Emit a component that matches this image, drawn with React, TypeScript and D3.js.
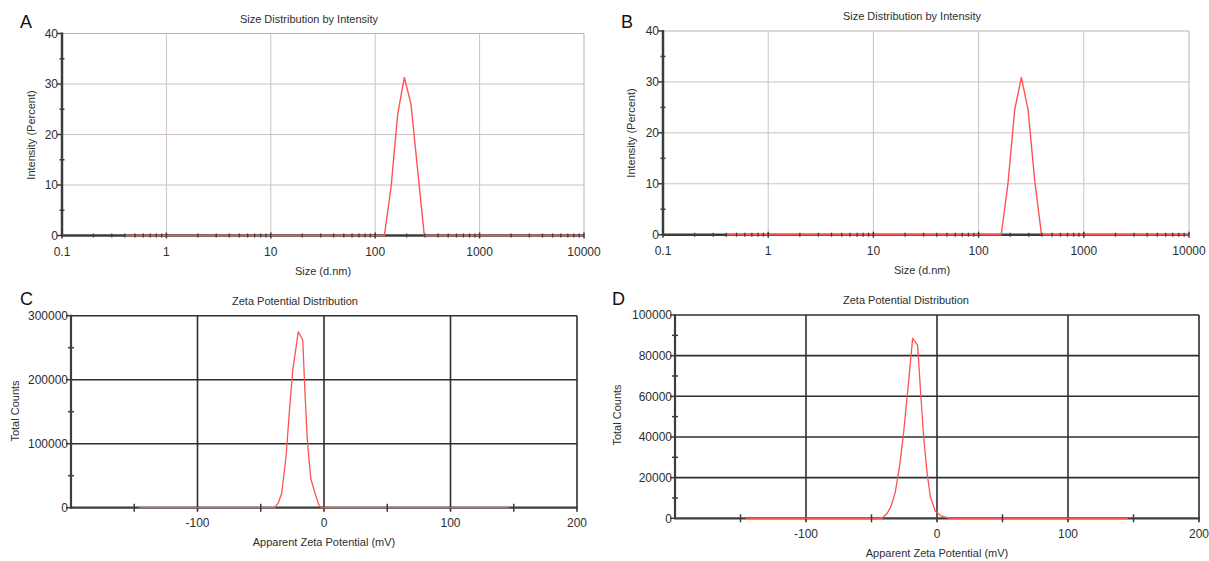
import React from 'react';
import * as d3 from 'd3';

// ---------- data ----------
const SIZE_TICKS = [0.1, 1, 10, 100, 1000, 10000];
const SIZE_LABELS = ['0.1', '1', '10', '100', '1000', '10000'];
const INTENSITY_TICKS = [0, 10, 20, 30, 40];

const ZETA_TICKS = [-100, 0, 100, 200];
const ZETA_LABELS = ['-100', '0', '100', '200'];
const ZETA_MINOR = [-150, -50, 50, 150];
const COUNTS_C_TICKS = [0, 100000, 200000, 300000];
const COUNTS_D_TICKS = [0, 20000, 40000, 60000, 80000, 100000];

// Size distribution A (d.nm, intensity %)
const sizeA = [0.4, 122.4, 141.8, 164.2, 190.1, 220.2, 255.0, 295.3, 10000];
const intensityA = [0, 0, 9.5, 24, 31.3, 26, 13, 0, 0];

// Size distribution B
const sizeB = [0.4, 164.2, 190.1, 220.2, 255.0, 295.3, 342.0, 396.1, 10000];
const intensityB = [0, 0, 10, 24.5, 30.9, 24.5, 10.5, 0, 0];

// Zeta potential C (mV, total counts)
const zetaC = [-146, -39, -36, -33.4, -30, -27.3, -24.7, -20.3, -16.8, -15, -13.2, -10.5, -7.1, -3.7, -0.5, 146];
const countsC = [0, 0, 8000, 23000, 80000, 152000, 215000, 275000, 262000, 178000, 106000, 46000, 22500, 2000, 0, 0];

// Zeta potential D
const zetaD = [-146, -42, -38, -35, -31.8, -28.5, -25.5, -22, -18.6, -14.8, -12.5, -10.2, -7.5, -5.1, -1.3, 3, 9.6, 146];
const countsD = [0, 0, 2500, 6000, 13000, 26000, 42000, 65000, 88500, 85200, 62000, 40100, 22000, 10600, 3600, 1200, 0, 0];

// ---------- style ----------
const FONT = "'Liberation Sans', Arial, sans-serif";
const RED = '#ff5252';
const AXIS = '#3c3c3c';
const TEXT = '#2e2e2e';

type Box = { l: number; r: number; t: number; b: number };

function fmt(v: number) {
  return String(v);
}

function SizePanel(props: {
  box: Box; xs: number[]; ys: number[]; letter: string;
  letterXY: [number, number]; titleXY: [number, number];
  xLabelXY: [number, number]; yLabelXY: [number, number]; tickLabelY: number;
}) {
  const { box, xs, ys } = props;
  const x = d3.scaleLog().domain([0.1, 10000]).range([box.l, box.r]);
  const y = d3.scaleLinear().domain([0, 40]).range([box.b, box.t]);
  const minorX = x.ticks().filter(v => Math.abs(Math.log10(v) - Math.round(Math.log10(v))) > 1e-6);
  const minorY = INTENSITY_TICKS.slice(0, -1).map((v, i) => (v + INTENSITY_TICKS[i + 1]) / 2);
  const pts = xs.map((v, i) => [v, ys[i]] as [number, number]);
  const line = d3.line<[number, number]>().x(d => x(d[0])).y(d => y(d[1]));
  const grid = '#cdc3bf';
  return (
    <g>
      <text x={props.letterXY[0]} y={props.letterXY[1]} fontSize={18} fill="#111" fontFamily={FONT}>{props.letter}</text>
      <text x={props.titleXY[0]} y={props.titleXY[1]} fontSize={11} fill={TEXT} textAnchor="middle" fontFamily={FONT}>Size Distribution by Intensity</text>
      {/* grid */}
      {SIZE_TICKS.slice(1, -1).map(v => (
        <line key={'gx' + v} x1={x(v)} x2={x(v)} y1={box.t} y2={box.b} stroke={grid} strokeWidth={1} />
      ))}
      {INTENSITY_TICKS.slice(1, -1).map(v => (
        <line key={'gy' + v} x1={box.l} x2={box.r} y1={y(v)} y2={y(v)} stroke={grid} strokeWidth={1} />
      ))}
      <line x1={box.l} x2={box.r} y1={box.t} y2={box.t} stroke="#bdb3af" strokeWidth={1} />
      <line x1={box.r} x2={box.r} y1={box.t} y2={box.b} stroke="#bdb3af" strokeWidth={1} />
      {/* axes */}
      <line x1={box.l} x2={box.l} y1={box.t - 1} y2={box.b + 1} stroke={AXIS} strokeWidth={2.5} />
      <line x1={box.l} x2={box.r} y1={box.b} y2={box.b} stroke={AXIS} strokeWidth={2.5} />
      {/* data */}
      <path d={line(pts) || ''} fill="none" stroke={RED} strokeWidth={1.4} strokeLinejoin="round" />
      {/* ticks */}
      {INTENSITY_TICKS.map(v => (
        <line key={'ty' + v} x1={box.l - 5} x2={box.l} y1={y(v)} y2={y(v)} stroke={AXIS} strokeWidth={1.5} />
      ))}
      {minorY.map(v => (
        <line key={'my' + v} x1={box.l - 2.5} x2={box.l + 2.5} y1={y(v)} y2={y(v)} stroke={AXIS} strokeWidth={1.5} />
      ))}
      {SIZE_TICKS.map(v => (
        <line key={'tx' + v} x1={x(v)} x2={x(v)} y1={box.b - 3} y2={box.b + 3} stroke={AXIS} strokeWidth={1.5} />
      ))}
      {minorX.map((v, i) => (
        <line key={'mx' + i} x1={x(v)} x2={x(v)} y1={box.b - 2} y2={box.b + 2} stroke={AXIS} strokeWidth={1.3} />
      ))}
      {/* tick labels */}
      {INTENSITY_TICKS.map(v => (
        <text key={'ly' + v} x={box.l - 4} y={y(v)} dy="0.36em" fontSize={12} fill={TEXT} textAnchor="end" fontFamily={FONT}>{fmt(v)}</text>
      ))}
      {SIZE_TICKS.map((v, i) => (
        <text key={'lx' + v} x={x(v)} y={props.tickLabelY} fontSize={12} fill={TEXT} textAnchor="middle" fontFamily={FONT}>{SIZE_LABELS[i]}</text>
      ))}
      <text x={props.xLabelXY[0]} y={props.xLabelXY[1]} fontSize={11} fill={TEXT} textAnchor="middle" fontFamily={FONT}>Size (d.nm)</text>
      <text transform={`translate(${props.yLabelXY[0]},${props.yLabelXY[1]}) rotate(-90)`} fontSize={11} fill={TEXT} textAnchor="middle" fontFamily={FONT}>Intensity (Percent)</text>
    </g>
  );
}

function ZetaPanel(props: {
  box: Box; xs: number[]; ys: number[]; yTicks: number[]; letter: string;
  letterXY: [number, number]; titleXY: [number, number];
  xLabelXY: [number, number]; yLabelXY: [number, number]; tickLabelY: number;
}) {
  const { box, xs, ys, yTicks } = props;
  const x = d3.scaleLinear().domain([-200, 200]).range([box.l, box.r]);
  const y = d3.scaleLinear().domain([0, yTicks[yTicks.length - 1]]).range([box.b, box.t]);
  const minorY = yTicks.slice(0, -1).map((v, i) => (v + yTicks[i + 1]) / 2);
  const pts = xs.map((v, i) => [v, ys[i]] as [number, number]);
  const line = d3.line<[number, number]>().x(d => x(d[0])).y(d => y(d[1]));
  const grid = '#2f2f2f';
  return (
    <g>
      <text x={props.letterXY[0]} y={props.letterXY[1]} fontSize={18} fill="#111" fontFamily={FONT}>{props.letter}</text>
      <text x={props.titleXY[0]} y={props.titleXY[1]} fontSize={11} fill={TEXT} textAnchor="middle" fontFamily={FONT}>Zeta Potential Distribution</text>
      {ZETA_TICKS.map(v => (
        <line key={'gx' + v} x1={x(v)} x2={x(v)} y1={box.t} y2={box.b + 4} stroke={grid} strokeWidth={1.6} />
      ))}
      {yTicks.slice(1).map(v => (
        <line key={'gy' + v} x1={box.l} x2={box.r} y1={y(v)} y2={y(v)} stroke={grid} strokeWidth={1.6} />
      ))}
      <line x1={box.l} x2={box.l} y1={box.t - 1} y2={box.b + 1} stroke={AXIS} strokeWidth={2.2} />
      <line x1={box.l} x2={box.r + 1} y1={box.b} y2={box.b} stroke={AXIS} strokeWidth={2.2} />
      <path d={line(pts) || ''} fill="none" stroke={RED} strokeWidth={1.3} strokeLinejoin="round" />
      {yTicks.map(v => (
        <line key={'ty' + v} x1={box.l - 5} x2={box.l} y1={y(v)} y2={y(v)} stroke={AXIS} strokeWidth={1.5} />
      ))}
      {minorY.map(v => (
        <line key={'my' + v} x1={box.l - 3} x2={box.l + 3} y1={y(v)} y2={y(v)} stroke={AXIS} strokeWidth={1.5} />
      ))}
      {ZETA_MINOR.map(v => (
        <line key={'mx' + v} x1={x(v)} x2={x(v)} y1={box.b - 4} y2={box.b + 4} stroke={AXIS} strokeWidth={1.5} />
      ))}
      {yTicks.map(v => (
        <text key={'ly' + v} x={box.l - 3} y={y(v)} dy="0.36em" fontSize={12} fill={TEXT} textAnchor="end" fontFamily={FONT}>{fmt(v)}</text>
      ))}
      {ZETA_TICKS.map((v, i) => (
        <text key={'lx' + v} x={x(v)} y={props.tickLabelY} fontSize={12} fill={TEXT} textAnchor="middle" fontFamily={FONT}>{ZETA_LABELS[i]}</text>
      ))}
      <text x={props.xLabelXY[0]} y={props.xLabelXY[1]} fontSize={11} fill={TEXT} textAnchor="middle" fontFamily={FONT}>Apparent Zeta Potential (mV)</text>
      <text transform={`translate(${props.yLabelXY[0]},${props.yLabelXY[1]}) rotate(-90)`} fontSize={11} fill={TEXT} textAnchor="middle" fontFamily={FONT}>Total Counts</text>
    </g>
  );
}

export default function App() {
  return (
    <svg width={1209} height={561} style={{ position: 'absolute', left: 0, top: 0, background: '#fff' }}>
      <rect x={0} y={0} width={1209} height={561} fill="#fff" />
      <SizePanel box={{ l: 62, r: 584, t: 33.5, b: 235.5 }} xs={sizeA} ys={intensityA} letter="A"
        letterXY={[20, 28]} titleXY={[309, 23]} xLabelXY={[323, 275]} yLabelXY={[35, 135]} tickLabelY={256} />
      <SizePanel box={{ l: 663, r: 1189, t: 31, b: 234.7 }} xs={sizeB} ys={intensityB} letter="B"
        letterXY={[621, 28]} titleXY={[912, 20]} xLabelXY={[922, 274]} yLabelXY={[635, 133]} tickLabelY={255} />
      <ZetaPanel box={{ l: 71, r: 577, t: 315.7, b: 507.7 }} xs={zetaC} ys={countsC} yTicks={COUNTS_C_TICKS} letter="C"
        letterXY={[20, 305]} titleXY={[295, 305]} xLabelXY={[324, 546]} yLabelXY={[19, 411]} tickLabelY={527} />
      <ZetaPanel box={{ l: 675, r: 1199, t: 315, b: 518.3 }} xs={zetaD} ys={countsD} yTicks={COUNTS_D_TICKS} letter="D"
        letterXY={[612, 305]} titleXY={[906, 304]} xLabelXY={[937, 557]} yLabelXY={[621, 415]} tickLabelY={538} />
    </svg>
  );
}
